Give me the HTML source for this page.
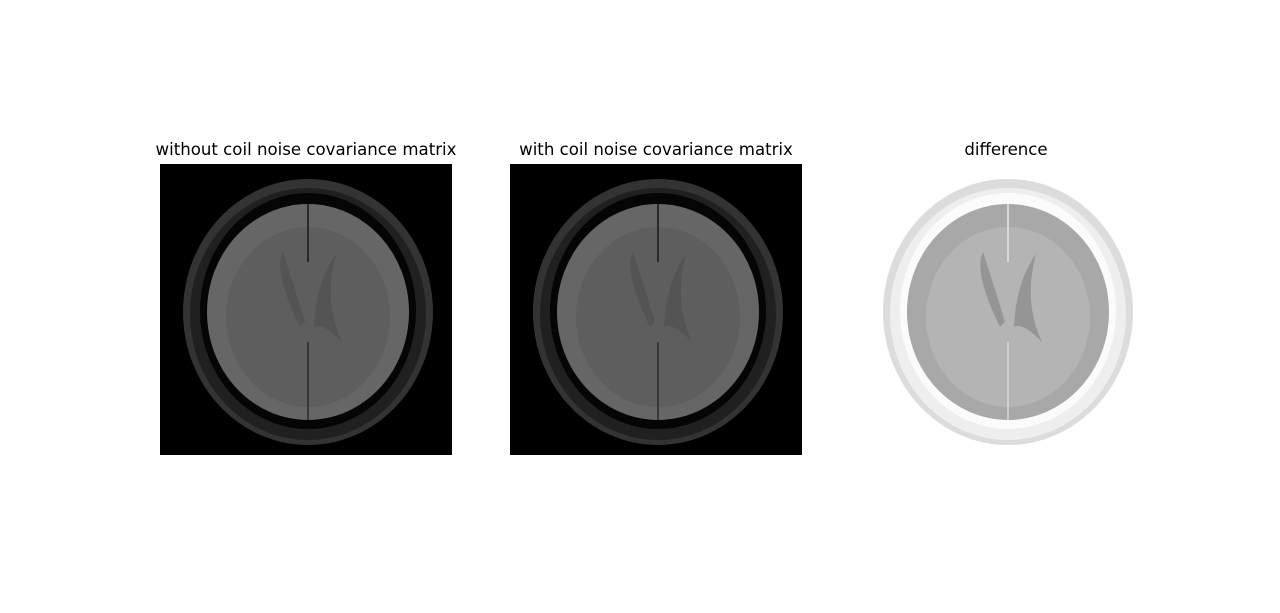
<!DOCTYPE html>
<html><head><meta charset="utf-8"><style>
body{margin:0;background:#fff;width:1280px;height:613px;overflow:hidden}
svg{display:block}
text{font-family:"DejaVu Sans","Liberation Sans",sans-serif;font-size:16.6px;fill:#000}
</style></head><body>
<svg id="fig" width="1280" height="613">
<text x="306" y="155" text-anchor="middle">without coil noise covariance matrix</text>
<text x="656" y="155" text-anchor="middle">with coil noise covariance matrix</text>
<text x="1006" y="155" text-anchor="middle">difference</text>
</svg>
<script>
const panelX=[160,510,860];
const panelNames=['image-without-covariance','image-with-covariance','image-difference'];
const NS='http://www.w3.org/2000/svg';
const svg=document.getElementById('fig');
function mk(tag,attrs,parent){const e=document.createElementNS(NS,tag);for(const k in attrs)e.setAttribute(k,attrs[k]);parent.appendChild(e);return e;}
panelX.forEach((x0,i)=>{
  const g=mk('g',{transform:'translate('+x0+',164)'},svg);
  
  
  const diff=i===2;
  const c=diff?{bg:'#fff',skull:'#eeeeee',skin:'#dcdcdc',csf:'#fbfbfb',brain:'#a8a8a8',wm:'#b4b4b4',vent:'#959595',edge:'#d8d8d8'}
             :{bg:'#000',skull:'#202020',skin:'#333333',csf:'#050505',brain:'#666666',wm:'#5e5e5e',vent:'#545454',edge:'#2a2a2a'};
  mk('rect',{x:0,y:0,width:292,height:291,fill:c.bg},g);
  const cx=148,cy=148;
  mk('ellipse',{cx:cx,cy:cy,rx:125,ry:133,fill:c.skin},g);
  mk('ellipse',{cx:cx,cy:cy+2,rx:118,ry:126,fill:c.skull},g);
  mk('ellipse',{cx:cx,cy:cy-1,rx:108,ry:118,fill:c.csf},g);
  mk('ellipse',{cx:cx,cy:cy,rx:101,ry:108,fill:c.brain},g);
  mk('ellipse',{cx:cx,cy:cy+5,rx:82,ry:90,fill:c.wm},g);
  mk('path',{d:'M'+(cx-8)+' '+(cy+15)+' Q'+(cx-35)+' '+(cy-40)+' '+(cx-25)+' '+(cy-60)+' Q'+(cx-12)+' '+(cy-20)+' '+(cx-3)+' '+(cy+10)+'Z',fill:c.vent},g);
  mk('path',{d:'M'+(cx+6)+' '+(cy+15)+' Q'+(cx+8)+' '+(cy-30)+' '+(cx+28)+' '+(cy-58)+' Q'+(cx+15)+' '+(cy-10)+' '+(cx+34)+' '+(cy+30)+' Q'+(cx+15)+' '+(cy+10)+' '+(cx+6)+' '+(cy+15)+'Z',fill:c.vent},g);
  mk('line',{x1:cx,y1:cy-108,x2:cx,y2:cy-50,stroke:c.edge,'stroke-width':2},g);
  mk('line',{x1:cx,y1:cy+30,x2:cx,y2:cy+108,stroke:c.edge,'stroke-width':1.5},g);
});
</script>
</body></html>
